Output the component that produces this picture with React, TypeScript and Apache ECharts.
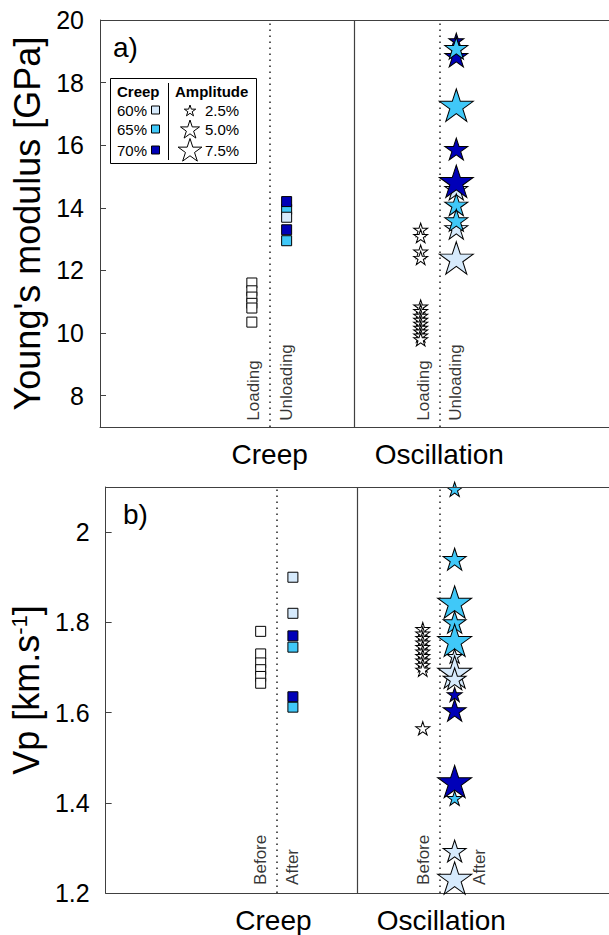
import { useEffect, useRef } from 'react';
import * as echarts from 'echarts';

const FONT = '"Liberation Sans", Arial, Helvetica, sans-serif';
const LIGHT = '#d6eafc';
const CYAN = '#40c8f8';
const NAVY = '#0000b8';
const FRAME = '#404040';
const LEVEL_COLORS: Record<string, string> = { '60%': LIGHT, '65%': CYAN, '70%': NAVY };
const AMP_SIZE: Record<string, number> = { '2.5%': 15, '5.0%': 23, '7.5%': 34 };
const STAR = 'path://M50 0 L61.23 34.55 L97.55 34.55 L68.16 55.9 L79.39 90.45 L50 69.1 L20.61 90.45 L31.84 55.9 L2.45 34.55 L38.77 34.55 Z';

// categories and their x positions
const xCategories = ['Creep', 'Oscillation'];
const categoryPositions = [1, 2];

// ---------- Panel a: Young's modulus ----------
const yTicksA = [8, 10, 12, 14, 16, 18, 20];
const creepLoadingE = [11.6, 11.35, 11.15, 10.95, 10.8, 10.35];
const creepUnloadingE = [13.95, 14.2, 13.7, 13.3, 12.95];
const creepUnloadingLevel = ['65%', '70%', '60%', '70%', '65%'];
const oscLoadingE = [13.3, 13.1, 12.6, 12.4, 10.85, 10.7, 10.55, 10.42, 10.3, 10.17, 10.05, 9.92, 9.8];
const oscUnloadingE = [19.35, 18.85, 19.1, 17.28, 15.88, 14.6, 14.85, 14.1, 13.35, 13.6, 12.4];
const oscUnloadingLevel = ['70%', '70%', '65%', '65%', '70%', '60%', '70%', '65%', '60%', '65%', '60%'];
const oscUnloadingAmp = ['2.5%', '5.0%', '5.0%', '7.5%', '5.0%', '5.0%', '7.5%', '5.0%', '5.0%', '5.0%', '7.5%'];

// ---------- Panel b: Vp ----------
const yTicksB = [1.2, 1.4, 1.6, 1.8, 2];
const creepBeforeVp = [1.78, 1.73, 1.71, 1.695, 1.68, 1.665];
const creepAfterVp = [1.9, 1.82, 1.745, 1.77, 1.612, 1.635];
const creepAfterLevel = ['60%', '60%', '65%', '70%', '65%', '70%'];
const oscBeforeVp = [1.785, 1.775, 1.765, 1.755, 1.745, 1.735, 1.725, 1.715, 1.705, 1.695, 1.565];
const oscAfterVp = [2.095, 1.94, 1.845, 1.8, 1.76, 1.725, 1.69, 1.675, 1.64, 1.605, 1.447, 1.41, 1.293, 1.233];
const oscAfterLevel = ['65%', '65%', '65%', '65%', '65%', '60%', '60%', '60%', '70%', '70%', '70%', '65%', '60%', '60%'];
const oscAfterAmp = ['2.5%', '5.0%', '7.5%', '5.0%', '7.5%', '2.5%', '7.5%', '5.0%', '2.5%', '5.0%', '7.5%', '2.5%', '5.0%', '7.5%'];

// phase annotations
const phaseLabelsA = ['Loading', 'Unloading', 'Loading', 'Unloading'];
const phaseXA = [0.904, 1.1, 1.904, 2.096];
const phaseLabelsB = ['Before', 'After', 'Before', 'After'];
const phaseXB = [0.924, 1.116, 1.895, 2.23];

const starSize = (s: number) => [s, s * 0.951];

function starPoints(cx: number, cy: number, R: number) {
  const pts: number[][] = [];
  for (let i = 0; i < 10; i++) {
    const r = i % 2 === 0 ? R : R * 0.382;
    const a = -Math.PI / 2 + (i * Math.PI) / 5;
    pts.push([cx + r * Math.cos(a), cy + r * Math.sin(a)]);
  }
  return pts;
}

function makeYAxis(gridIndex: number, min: number, max: number, ticks: number[], name: any, rich?: any) {
  return {
    type: 'value',
    gridIndex,
    min,
    max,
    name,
    nameLocation: 'middle',
    nameGap: 52,
    nameTextStyle: { fontSize: 36, color: '#000', fontFamily: FONT, rich },
    axisLine: { show: true, lineStyle: { color: FRAME, width: 1 } },
    axisTick: { show: true, inside: true, length: 6, customValues: ticks, lineStyle: { color: FRAME } },
    axisLabel: { customValues: ticks, fontSize: 25, color: '#000', fontFamily: FONT, margin: 16 },
    splitLine: { show: false },
  };
}

function makeXAxis(gridIndex: number) {
  return {
    type: 'value',
    gridIndex,
    min: 0,
    max: 3,
    axisLine: { show: true, lineStyle: { color: FRAME, width: 1 } },
    axisTick: { show: false },
    axisLabel: {
      customValues: categoryPositions,
      formatter: (v: number) => {
        const i = categoryPositions.indexOf(v);
        return i >= 0 ? xCategories[i] : '';
      },
      fontSize: 28,
      color: '#000',
      fontFamily: FONT,
      margin: 13,
    },
    splitLine: { show: false },
  };
}

function guideSeries(idx: number, dotted: number[], top: number) {
  return {
    type: 'scatter',
    xAxisIndex: idx,
    yAxisIndex: idx,
    data: [],
    silent: true,
    markLine: {
      silent: true,
      symbol: 'none',
      label: { show: false },
      animation: false,
      data: [
        { yAxis: top, lineStyle: { color: FRAME, width: 1, type: 'solid' } },
        { xAxis: 1.5, lineStyle: { color: FRAME, width: 1.2, type: 'solid' } },
        ...dotted.map((x) => ({ xAxis: x, lineStyle: { color: '#222', width: 1.5, type: [1.5, 4.5] } })),
      ],
    },
  };
}

function labelSeries(idx: number, xs: number[], names: string[], y: number) {
  return {
    type: 'scatter',
    xAxisIndex: idx,
    yAxisIndex: idx,
    silent: true,
    symbolSize: 1,
    itemStyle: { color: 'rgba(0,0,0,0)' },
    z: 5,
    data: names.map((n, i) => ({ value: [xs[i], y], name: n })),
    label: {
      show: true,
      position: 'inside',
      formatter: '{b}',
      rotate: 90,
      align: 'left',
      verticalAlign: 'middle',
      fontSize: 17,
      color: '#000',
      fontFamily: FONT,
    },
  };
}

function squareSeries(idx: number, x: number, values: number[], levels?: string[]) {
  return {
    type: 'scatter',
    xAxisIndex: idx,
    yAxisIndex: idx,
    symbol: 'rect',
    symbolSize: 10,
    z: 3,
    data: values.map((v, i) => ({
      value: [x, v],
      itemStyle: { color: levels ? LEVEL_COLORS[levels[i]] : '#ffffff', borderColor: '#000', borderWidth: 1, opacity: 1 },
    })),
  };
}

function starSeries(idx: number, x: number, values: number[], levels?: string[], amps?: string[]) {
  return {
    type: 'scatter',
    xAxisIndex: idx,
    yAxisIndex: idx,
    symbol: STAR,
    z: 3,
    data: values.map((v, i) => ({
      value: [x, v],
      symbolSize: starSize(amps ? AMP_SIZE[amps[i]] : 14),
      itemStyle: { color: levels ? LEVEL_COLORS[levels[i]] : '#ffffff', borderColor: '#000', borderWidth: 1, opacity: 1 },
    })),
  };
}

export default function App() {
  const ref = useRef<HTMLDivElement>(null);
  useEffect(() => {
    if (!ref.current) return;
    const chart = echarts.init(ref.current, null, { renderer: 'svg' });
    const legendRows = [110, 129, 150];
    const legendLevels = ['60%', '65%', '70%'];
    const legendAmps = ['2.5%', '5.0%', '7.5%'];
    const legendStarR = [6, 10, 12.5];
    const txt = (text: string, x: number, y: number, size: number, bold = false, align = 'left') => ({
      type: 'text',
      x,
      y,
      silent: true,
      style: { text, fontSize: size, fontWeight: bold ? 'bold' : 'normal', fontFamily: FONT, fill: '#000', align, verticalAlign: 'middle' },
    });
    const graphic: any[] = [
      { type: 'rect', shape: { x: 110.5, y: 78.5, width: 146, height: 85 }, style: { fill: '#fff', stroke: '#000', lineWidth: 1 }, z: 10 },
      { type: 'line', shape: { x1: 168.5, y1: 83, x2: 168.5, y2: 160 }, style: { stroke: '#000', lineWidth: 1 }, z: 11 },
      { ...txt('Creep', 117, 91, 15, true), z: 11 },
      { ...txt('Amplitude', 175, 91, 15, true), z: 11 },
      ...legendLevels.map((l, i) => ({ ...txt(l, 117, legendRows[i], 15), z: 11 })),
      ...legendLevels.map((l, i) => ({
        type: 'rect',
        z: 11,
        shape: { x: 151.5, y: legendRows[i] - 4, width: 8, height: 8 },
        style: { fill: LEVEL_COLORS[l], stroke: '#000', lineWidth: 1 },
      })),
      ...legendAmps.map((a, i) => ({
        type: 'polygon',
        z: 11,
        shape: { points: starPoints(190, legendRows[i] + 1, legendStarR[i]) },
        style: { fill: '#fff', stroke: '#000', lineWidth: 1 },
      })),
      ...legendAmps.map((a, i) => ({ ...txt(a, 205, legendRows[i], 15), z: 11 })),
      { ...txt('a)', 113, 47, 28), z: 11 },
      { ...txt('b)', 123, 514, 28), z: 11 },
    ];

    chart.setOption({
      animation: false,
      textStyle: { fontFamily: FONT },
      grid: [
        { left: 100, top: 20, width: 516, height: 407, show: false },
        { left: 100, top: 487, width: 516, height: 406, show: false },
      ],
      xAxis: [makeXAxis(0), makeXAxis(1)],
      yAxis: [
        makeYAxis(0, 7, 20, yTicksA, "Young's modulus [GPa]"),
        makeYAxis(1, 1.2, 2.1, yTicksB, '{n|Vp [km.s}{sup|-1}{n|]}', {
          n: { fontSize: 36, fontFamily: FONT, color: '#000', verticalAlign: 'bottom' },
          sup: { fontSize: 22, fontFamily: FONT, color: '#000', verticalAlign: 'top' },
        }),
      ],
      graphic,
      series: [
        guideSeries(0, [1.0, 2.0], 20),
        guideSeries(1, [1.022, 1.99], 2.1),
        squareSeries(0, 0.895, creepLoadingE),
        squareSeries(0, 1.1, creepUnloadingE, creepUnloadingLevel),
        starSeries(0, 1.89, oscLoadingE),
        starSeries(0, 2.1, oscUnloadingE, oscUnloadingLevel, oscUnloadingAmp),
        squareSeries(1, 0.924, creepBeforeVp),
        squareSeries(1, 1.116, creepAfterVp, creepAfterLevel),
        starSeries(1, 1.89, oscBeforeVp),
        starSeries(1, 2.08, oscAfterVp, oscAfterLevel, oscAfterAmp),
        labelSeries(0, phaseXA, phaseLabelsA, 7.2),
        labelSeries(1, phaseXB, phaseLabelsB, 1.218),
      ],
    });
    return () => chart.dispose();
  }, []);
  return <div ref={ref} style={{ position: 'absolute', left: 0, top: 0, width: 609, height: 935 }} />;
}
